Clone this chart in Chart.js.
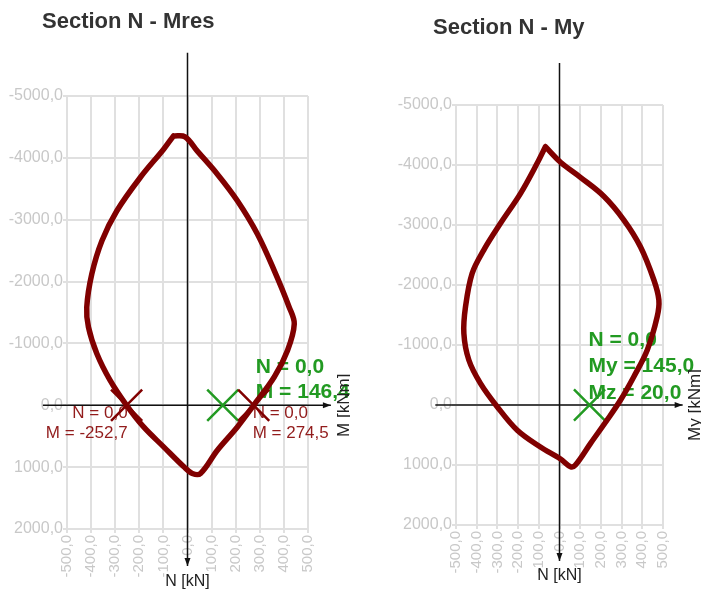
<!DOCTYPE html>
<html>
<head>
<title>Section N - M</title>
<script src="https://cdn.jsdelivr.net/npm/chart.js"></script>
<style>
  body { margin: 0; background: #fff; }
  canvas { position: absolute; top: 0; }
  #chartMres { left: 0; }
  #chartMy { left: 350px; }
</style>
</head>
<body>
<canvas id="chartMres" width="350" height="592"></canvas>
<canvas id="chartMy" width="351" height="592"></canvas>
<script>
// interaction curve N - Mres  (M in kNm, N in kN)
const mresM = [-58, -10, 40, 124, 207, 290, 360, 422, 443, 415, 360, 274.5, 207, 124, 54, 20,
  -15, -99, -182, -252.7, -321, -376, -411, -418, -397, -355, -293, -196, -99, -58];
const mresN = [-4355, -4340, -4113, -3736, -3306, -2769, -2177, -1586, -1317, -887, -457, 0, 350, 726, 1102, 1102,
  995, 672, 350, 0, -403, -834, -1263, -1586, -2124, -2661, -3145, -3683, -4140, -4355];

// interaction curve N - My
const myM = [-68, 5, 101, 214, 311, 391, 456, 480, 472, 424, 359, 295, 230, 150, 77, 53,
  5, -92, -204, -301, -382, -438, -462, -454, -422, -366, -285, -188, -108, -68];
const myN = [-4305, -4045, -3795, -3480, -3083, -2638, -2083, -1750, -1472, -917, -472, -83, 250, 639, 1000, 1028,
  900, 700, 420, 28, -361, -750, -1195, -1638, -2195, -2583, -3028, -3528, -4028, -4305];

// limit points at N = 0 (left chart)
const mresLimitM = [-252.7, 274.5];
const mresLimitN = [0, 0];
// design points
const mresDesignM = [146.4];
const mresDesignN = [0];
const myDesignM = [145.0];
const myDesignN = [0];
const myDesignMz = [20.0];

// axes
const mMin = -500, mMax = 500, mStep = 100;
const nMin = -5000, nMax = 2000, nStep = 1000;
const axisMRange = [-600, 595];
const axisNRange = [-5700, 2600];

const RED = '#800000';
const RED_TEXT = '#921c1c';
const GREEN = '#229a22';
const FONT = "'Liberation Sans', Arial, sans-serif";

const fmt = v => v.toFixed(1).replace('.', ',');
const pts = (xs, ys) => xs.map((v, i) => ({ x: v, y: ys[i] }));

// draws title, black axes with arrows, axis names and point labels
const sectionPlugin = {
  id: 'section',
  beforeDatasetsDraw(chart, args, opts) {
    const { ctx } = chart;
    const xs = chart.scales.x, ys = chart.scales.y;
    const x0 = xs.getPixelForValue(0), y0 = ys.getPixelForValue(0);
    const xa = xs.getPixelForValue(axisMRange[0]), xb = xs.getPixelForValue(axisMRange[1]);
    const ya = ys.getPixelForValue(axisNRange[0]), yb = ys.getPixelForValue(axisNRange[1]);
    ctx.save();

    // title
    ctx.fillStyle = '#333';
    ctx.font = 'bold 22px ' + FONT;
    ctx.textAlign = 'left';
    ctx.textBaseline = 'middle';
    ctx.fillText(opts.title, opts.titleX, opts.titleY);

    // point labels
    opts.labels.forEach(l => {
      const px = xs.getPixelForValue(l.m) + l.dx;
      const py = ys.getPixelForValue(l.n) + l.dy;
      ctx.fillStyle = l.color;
      ctx.font = l.font;
      ctx.textAlign = l.align;
      l.lines.forEach((t, i) => ctx.fillText(t, px, py + i * l.lh));
    });

    // black axes
    ctx.strokeStyle = '#111';
    ctx.fillStyle = '#111';
    ctx.lineWidth = 1.5;
    ctx.beginPath();
    ctx.moveTo(xa, y0); ctx.lineTo(xb, y0);
    ctx.moveTo(x0, ya); ctx.lineTo(x0, yb);
    ctx.stroke();
    ctx.beginPath();
    ctx.moveTo(xb, y0); ctx.lineTo(xb - 8, y0 - 3); ctx.lineTo(xb - 8, y0 + 3);
    ctx.closePath();
    ctx.moveTo(x0, yb); ctx.lineTo(x0 - 3, yb - 8); ctx.lineTo(x0 + 3, yb - 8);
    ctx.closePath();
    ctx.fill();

    ctx.font = '16px ' + FONT;
    ctx.fillStyle = '#222';
    ctx.textAlign = 'center';
    ctx.fillText('N [kN]', x0, yb + 15);
    ctx.translate(xb + 13, y0);
    ctx.rotate(-Math.PI / 2);
    ctx.font = '17px ' + FONT;
    ctx.fillText(opts.mLabel, 0, 0);
    ctx.restore();
  }
};

function makeChart(id, curve, markers, plugOpts, pad) {
  new Chart(document.getElementById(id), {
    type: 'scatter',
    data: {
      datasets: [
        {
          data: curve,
          showLine: true,
          borderColor: RED,
          borderWidth: 5.5,
          borderJoinStyle: 'round',
          borderCapStyle: 'round',
          tension: 0.35,
          pointRadius: 0
        },
        ...markers
      ]
    },
    options: {
      responsive: false,
      animation: false,
      layout: { padding: pad },
      plugins: {
        legend: { display: false },
        tooltip: { enabled: false },
        section: plugOpts
      },
      scales: {
        x: {
          type: 'linear',
          min: mMin,
          max: mMax,
          afterFit: s => { s.height = 55; },
          grid: { color: '#e0e0e0', lineWidth: 2, tickLength: 4 },
          border: { color: '#e0e0e0', width: 2 },
          ticks: {
            stepSize: mStep,
            autoSkip: false,
            minRotation: 90,
            maxRotation: 90,
            padding: 2,
            color: '#c8c8c8',
            font: { family: FONT, size: 15 },
            callback: v => fmt(v)
          }
        },
        y: {
          type: 'linear',
          reverse: true,
          min: nMin,
          max: nMax,
          afterFit: s => { s.width = 67; },
          grid: { color: '#e0e0e0', lineWidth: 2, tickLength: 4 },
          border: { color: '#e0e0e0', width: 2 },
          ticks: {
            stepSize: nStep,
            padding: 0,
            color: '#c8c8c8',
            font: { family: FONT, size: 16 },
            callback: v => fmt(v)
          }
        }
      }
    },
    plugins: [sectionPlugin]
  });
}

const cross = (data, color) => ({
  data: data,
  pointStyle: 'crossRot',
  pointRadius: 22,
  pointBorderColor: color,
  pointBorderWidth: 2.5,
  showLine: false
});

// left chart: N - Mres
makeChart('chartMres', pts(mresM, mresN), [
  cross(pts(mresLimitM, mresLimitN), RED),
  cross(pts(mresDesignM, mresDesignN), GREEN)
], {
  title: 'Section N - Mres', titleX: 42, titleY: 22, mLabel: 'M [kNm]',
  labels: [
    { m: mresLimitM[0], n: mresLimitN[0], dx: 1, dy: 8, lh: 20, align: 'right', color: RED_TEXT,
      font: '17px ' + FONT, lines: ['N = ' + fmt(mresLimitN[0]), 'M = ' + fmt(mresLimitM[0])] },
    { m: mresLimitM[1], n: mresLimitN[1], dx: -1, dy: 8, lh: 20, align: 'left', color: RED_TEXT,
      font: '17px ' + FONT, lines: ['N = ' + fmt(mresLimitN[1]), 'M = ' + fmt(mresLimitM[1])] },
    { m: mresDesignM[0], n: mresDesignN[0], dx: 33, dy: -38, lh: 25, align: 'left', color: GREEN,
      font: 'bold 21px ' + FONT, lines: ['N = ' + fmt(mresDesignN[0]), 'M = ' + fmt(mresDesignM[0])] }
  ]
}, { top: 96, right: 42, bottom: 8, left: 0 });

// right chart: N - My
makeChart('chartMy', pts(myM, myN), [
  cross(pts(myDesignM, myDesignN), GREEN)
], {
  title: 'Section N - My', titleX: 83, titleY: 28, mLabel: 'My [kNm]',
  labels: [
    { m: myDesignM[0], n: myDesignN[0], dx: -1, dy: -65, lh: 26.5, align: 'left', color: GREEN,
      font: 'bold 21px ' + FONT,
      lines: ['N = ' + fmt(myDesignN[0]), 'My = ' + fmt(myDesignM[0]), 'Mz = ' + fmt(myDesignMz[0])] }
  ]
}, { top: 105, right: 38, bottom: 12, left: 39 });
</script>
</body>
</html>
